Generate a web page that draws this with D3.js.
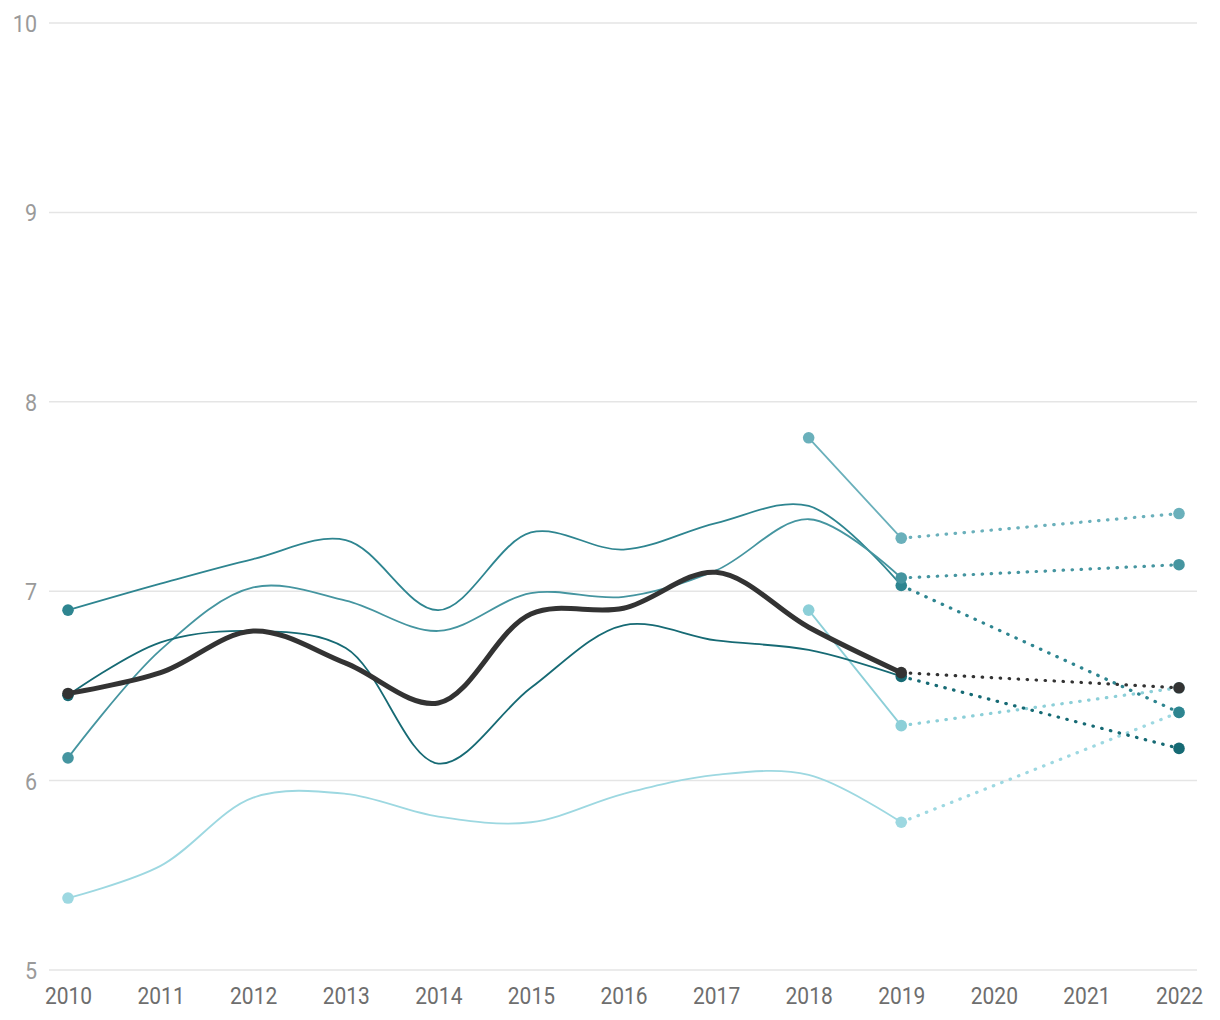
<!DOCTYPE html>
<html><head><meta charset="utf-8">
<script src="https://cdn.jsdelivr.net/npm/d3@7"></script>
<style>body{margin:0;background:#fff}</style>
</head><body>
<svg id="chart" width="1220" height="1020"></svg>
<script>
const years = [2010, 2011, 2012, 2013, 2014, 2015, 2016, 2017, 2018, 2019, 2020, 2021, 2022];
const histYears = [2010, 2011, 2012, 2013, 2014, 2015, 2016, 2017, 2018, 2019];
const yTicks = [5, 6, 7, 8, 9, 10];
const projYear = 2022;

const seriesNames = ["E", "F", "G", "A", "B", "C", "D"];
const seriesE = [5.38, 5.55, 5.91, 5.93, 5.81, 5.78, 5.93, 6.03, 6.03, 5.78];
const seriesF = [null, null, null, null, null, null, null, null, 6.90, 6.29];
const seriesG = [null, null, null, null, null, null, null, null, 7.81, 7.28];
const seriesA = [6.90, 7.04, 7.17, 7.27, 6.90, 7.31, 7.22, 7.36, 7.45, 7.03];
const seriesB = [6.12, 6.69, 7.02, 6.95, 6.79, 6.99, 6.97, 7.11, 7.38, 7.07];
const seriesC = [6.45, 6.73, 6.79, 6.70, 6.09, 6.49, 6.82, 6.74, 6.69, 6.55];
const seriesD = [6.46, 6.57, 6.79, 6.62, 6.41, 6.88, 6.91, 7.10, 6.81, 6.57];
const projections = [6.36, 6.49, 7.41, 6.36, 7.14, 6.17, 6.49];
const colors = ["#9dd8e1", "#8ccfd8", "#6ab0bb", "#2e8590", "#4595a0", "#166a74", "#333333"];
const widths = [1.8, 1.8, 1.8, 1.8, 1.8, 1.8, 5];

const allSeries = [seriesE, seriesF, seriesG, seriesA, seriesB, seriesC, seriesD];

const svg = d3.select("#chart");
const x = d3.scaleLinear().domain([2010, 2022]).range([68, 1179]);
const y = d3.scaleLinear().domain([5, 10]).range([970, 23]);

// grid
const grid = svg.append("g");
grid.selectAll("line").data(yTicks).join("line")
  .attr("x1", 49).attr("x2", 1197)
  .attr("y1", d => y(d)).attr("y2", d => y(d))
  .attr("stroke", "#e5e5e5").attr("stroke-width", 1.5);

// y labels
const yAxis = d3.axisLeft(y).tickValues(yTicks).tickSize(0).tickPadding(0).tickFormat(d3.format("d"));
const gy = svg.append("g").attr("transform", "translate(37,0)").call(yAxis);
gy.select(".domain").remove();
gy.selectAll("text").attr("font-family", "Roboto, sans-serif").attr("font-size", 21.5)
  .attr("fill", "#9a9a9a").attr("dy", "0.35em").attr("transform", "scale(1,1.12)");

// x labels
const xAxis = d3.axisBottom(x).tickValues(years).tickSize(0).tickPadding(0).tickFormat(d3.format("d"));
const gx = svg.append("g").attr("transform", "translate(0,987)").call(xAxis);
gx.select(".domain").remove();
gx.selectAll("text").attr("font-family", "Roboto, sans-serif").attr("font-size", 21)
  .attr("fill", "#6e6e6e").attr("dy", "0.71em").attr("transform", "scale(1,1.12)");

const line = d3.line()
  .defined(d => d[1] != null)
  .x(d => x(d[0])).y(d => y(d[1]))
  .curve(d3.curveCatmullRom.alpha(0.5));

const dotted = svg.append("g");
const lines = svg.append("g");
const pts = svg.append("g");

allSeries.forEach((s, i) => {
  const pts2 = histYears.map((yr, j) => [yr, s[j]]);
  const valid = pts2.filter(d => d[1] != null);
  const last = valid[valid.length - 1];
  const first = valid[0];
  dotted.append("path")
    .attr("d", d3.line().x(d => x(d[0])).y(d => y(d[1]))([last, [projYear, projections[i]]]))
    .attr("fill", "none").attr("stroke", colors[i]).attr("stroke-width", 3.2)
    .attr("stroke-dasharray", "0.5,8.5").attr("stroke-linecap", "round");
  lines.append("path")
    .attr("d", line(valid))
    .attr("fill", "none").attr("stroke", colors[i]).attr("stroke-width", widths[i])
    .attr("stroke-linejoin", "round").attr("stroke-linecap", "round");
  [first, last, [projYear, projections[i]]].forEach(p => {
    pts.append("circle").attr("cx", x(p[0])).attr("cy", y(p[1])).attr("r", 5.8)
      .attr("fill", colors[i]);
  });
});
</script>
</body></html>
